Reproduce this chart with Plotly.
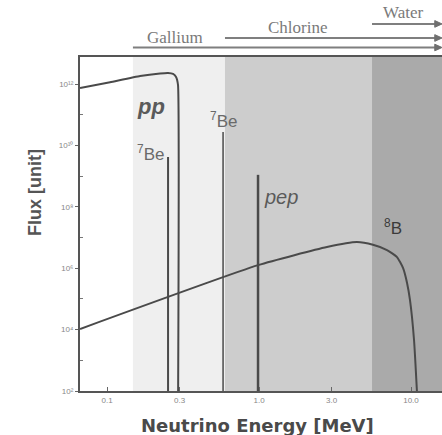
import numpy as np
import plotly.graph_objects as go

# ---- data ----
pp_energy = [0.0664, 0.1047, 0.165, 0.2233, 0.252, 0.272, 0.2845, 0.293, 0.293]
pp_flux = [7.4e11, 1.15e12, 1.82e12, 2.2e12, 2.29e12, 2.13e12, 1.7e12, 9.3e11, 1e1]

be7_low_energy = 0.252
be7_low_flux = 4.2e9
be7_high_energy = 0.58
be7_high_flux = 2.75e10
pep_energy = 0.985
pep_flux = 1.1e9

b8_energy = [0.0664, 0.985, 2.80, 4.41, 5.62, 6.95, 8.09, 8.86, 9.42, 9.85, 10.47, 10.95]
b8_flux = [1.05e4, 1.26e6, 4.9e6, 7.1e6, 5.8e6, 3.9e6, 2.3e6, 1.02e6, 3.3e5, 9.1e4, 4.6e3, 9e1]

# detector thresholds (start of each shaded band)
detectors = ["Gallium", "Chlorine", "Water"]
thresholds = [0.148, 0.597, 5.54]
band_colors = ["#efefef", "#cdcdcd", "#aaaaaa"]

x_ticks = [0.1, 0.3, 1.0, 3.0, 10.0]
x_ticklabels = ["0.1", "0.3", "1.0", "3.0", "10.0"]
y_ticks = [1e2, 1e4, 1e6, 1e8, 1e10, 1e12]
y_ticklabels = ["10²", "10⁴", "10⁶", "10⁸", "10¹⁰", "10¹²"]
y_minor = [1e3, 1e5, 1e7, 1e9, 1e11]

x_range = [-1.178, 1.204]
y_range = [2.0, 12.88]
line_col = "#4a4a4a"
floor = 1e1

fig = go.Figure()

# shaded detector bands
x_max = 10 ** x_range[1]
for i, (t, c) in enumerate(zip(thresholds, band_colors)):
    x1 = thresholds[i + 1] if i + 1 < len(thresholds) else x_max * 2
    fig.add_shape(type="rect", xref="x", yref="paper", x0=t, x1=x1, y0=0, y1=1,
                  fillcolor=c, line_width=0, layer="below")

# spectra
fig.add_trace(go.Scatter(x=pp_energy, y=pp_flux, mode="lines",
                         line=dict(color=line_col, width=2, shape="spline", smoothing=0.4),
                         showlegend=False))
fig.add_trace(go.Scatter(x=b8_energy, y=b8_flux, mode="lines",
                         line=dict(color=line_col, width=2, shape="spline", smoothing=0.5),
                         showlegend=False))
for e, f, w in [(be7_low_energy, be7_low_flux, 2), (be7_high_energy, be7_high_flux, 1.5),
                (pep_energy, pep_flux, 2.5)]:
    fig.add_trace(go.Scatter(x=[e, e], y=[floor, f], mode="lines",
                             line=dict(color=line_col, width=w), showlegend=False))

# labels
label_col = "#5a5a5a"
fig.add_annotation(x=-0.7105, y=11.28, xref="x", yref="y", text="<b><i>pp</i></b>",
                   showarrow=False, font=dict(size=22, color=label_col, family="Liberation Sans"))
fig.add_annotation(x=-0.615, y=9.75, xref="x", yref="y", text="<sup>7</sup>Be",
                   xanchor="right", showarrow=False,
                   font=dict(size=17, color="#6a6a6a", family="Liberation Sans"))
fig.add_annotation(x=-0.135, y=10.83, xref="x", yref="y", text="<sup>7</sup>Be",
                   xanchor="right", showarrow=False,
                   font=dict(size=17, color="#6a6a6a", family="Liberation Sans"))
fig.add_annotation(x=0.02, y=8.32, xref="x", yref="y", text="<i>pep</i>",
                   xanchor="left", showarrow=False,
                   font=dict(size=20, color=label_col, family="Liberation Sans"))
fig.add_annotation(x=0.882, y=7.34, xref="x", yref="y", text="<sup>8</sup>B",
                   showarrow=False, font=dict(size=17, color="#3a3a3a", family="Liberation Sans"))

# detector arrows and names above the plot
arrow_y = [1.0284, 1.0569, 1.099]
label_pos = [(-0.553, 1.057), (0.257, 1.087), (0.947, 1.132)]
head_x = 10 ** (x_range[1] - 0.012)
hw, hh = 0.02, 0.010
for name, t, ay, (lx, ly) in zip(detectors, thresholds, arrow_y, label_pos):
    fig.add_shape(type="line", xref="x", yref="paper", x0=t, x1=head_x, y0=ay, y1=ay,
                  line=dict(color="#7f7f7f", width=2))
    fig.add_shape(type="path", xref="paper", yref="paper",
                  path=f"M {1 - hw},{ay + hh} L 1.0,{ay} L {1 - hw},{ay - hh} Z",
                  fillcolor="#6f6f6f", line=dict(color="#6f6f6f", width=1))
    fig.add_annotation(x=lx, y=ly, xref="x", yref="paper", text=name, showarrow=False,
                       xanchor="center", yanchor="middle",
                       font=dict(size=17, color="#7a7a7a", family="Liberation Serif"))

fig.update_xaxes(type="log", range=x_range, tickvals=x_ticks, ticktext=x_ticklabels,
                 ticks="inside", ticklen=4, tickcolor="#666", showgrid=False,
                 showline=True, linecolor="#555", linewidth=2, mirror=True,
                 tickfont=dict(size=8, color="#888", family="Liberation Sans"),
                 zeroline=False)
fig.update_yaxes(type="log", range=y_range, tickvals=y_ticks, ticktext=y_ticklabels,
                 ticks="outside", ticklen=3, tickcolor="#666", showgrid=False,
                 showline=True, linecolor="#555", linewidth=2,
                 minor=dict(tickvals=y_minor, ticks="inside", ticklen=3, tickcolor="#777"),
                 tickfont=dict(size=8, color="#888", family="Liberation Sans"),
                 zeroline=False)
fig.add_annotation(x=0.489, y=-0.102, xref="paper", yref="paper",
                   text="<b>Neutrino Energy [MeV]</b>", showarrow=False,
                   xanchor="center", yanchor="middle",
                   font=dict(size=18, color="#4a4a4a", family="DejaVu Sans"))
fig.add_annotation(x=-0.124, y=0.593, xref="paper", yref="paper", text="<b>Flux [unit]</b>",
                   textangle=-90, showarrow=False, xanchor="center", yanchor="middle",
                   font=dict(size=18, color="#555", family="Liberation Sans"))

fig.update_layout(width=442, height=435, margin=dict(l=80, r=0, t=57, b=44),
                  paper_bgcolor="white", plot_bgcolor="white")

fig.write_html("out.html", config={"displayModeBar": False},
               post_script="document.body.style.margin='0';document.body.style.overflow='hidden';")
